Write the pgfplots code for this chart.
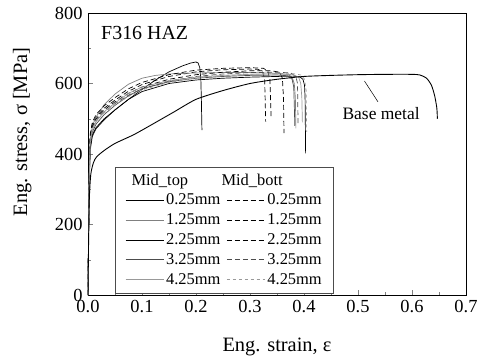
\documentclass[border=0pt]{standalone}
\usepackage{fontspec}
\setmainfont{Liberation Serif}
\usepackage{pgfplots}
\pgfplotsset{compat=1.18}
\definecolor{g1}{gray}{0.5}
\definecolor{g2}{gray}{0.3}
\definecolor{g3}{gray}{0.6}
\begin{document}
\begin{tikzpicture}
\useasboundingbox (-88bp,-61bp) rectangle (390bp,295bp);
\begin{axis}[
  scale only axis, width=378bp, height=282bp,
  xmin=0, xmax=0.7, ymin=0, ymax=800,
  xtick={0,0.1,...,0.7}, ytick={0,200,...,800},
  minor xtick={0.05,0.15,...,0.65}, minor ytick={100,300,500,700},
  tick pos=left, tick align=inside,
  major tick length=5pt, minor tick length=3pt,
  axis line style={line width=0.8pt},
  /pgf/number format/assume math mode=true,
  xticklabel style={yshift=-1.5pt,/pgf/number format/.cd,fixed,fixed zerofill,precision=1},
  yticklabel style={xshift=-2pt},
  tick label style={font=\fontsize{18.5}{20}\selectfont},
  xlabel={Eng. strain, ε},
  ylabel={Eng. stress, σ [MPa]},
  xlabel style={font=\fontsize{20.5}{24}\selectfont, at={(axis description cs:0.5,-0.14)}, anchor=north},
  ylabel style={font=\fontsize{20.5}{24}\selectfont, at={(axis description cs:-0.14,0.578)}, anchor=south},
  every axis plot/.append style={line width=0.7pt},
  legend columns=2,
  legend cell align=left,
  legend style={at={(axis description cs:0.0714,0.007)}, anchor=south west,
    font=\fontsize{16.5}{18}\selectfont, draw=black!70, line width=0.5pt,
    inner xsep=10pt, inner ysep=5pt, row sep=3.5pt,
    /tikz/every even column/.append style={column sep=4pt}},
  legend image code/.code={\draw[#1] (0cm,0cm) -- (1.35cm,0cm);},
]
\addlegendimage{legend image code/.code={\node[anchor=west,inner sep=0pt,overlay] at (0.2cm,0cm) {Mid\_top};}}
\addlegendentry{\vphantom{0.25mm}}
\addlegendimage{legend image code/.code={\node[anchor=west,inner sep=0pt,overlay] at (-0.2cm,0cm) {Mid\_bott};}}
\addlegendentry{\vphantom{0.25mm}}

% S1 0.25mm solid
\addplot[black] coordinates {(0,0)(0.002,300)(0.004,420)(0.008,455)(0.015,475)(0.03,500)(0.05,525)(0.075,555)(0.1,583)(0.125,610)(0.15,633)(0.175,650)(0.19,658)(0.2,661)(0.204,658)(0.207,645)(0.209,610)(0.21,550)(0.211,468)};
\addlegendentry{0.25mm}
% D1
\addplot[black, dash pattern=on 5pt off 3pt] coordinates {(0,0)(0.002,330)(0.004,450)(0.008,485)(0.015,505)(0.03,530)(0.05,553)(0.075,578)(0.1,597)(0.15,620)(0.2,633)(0.25,639)(0.3,641)(0.315,640)(0.323,634)(0.327,615)(0.328,560)(0.329,492)};
\addlegendentry{0.25mm}
% S2
\addplot[g1] coordinates {(0,0)(0.002,320)(0.004,440)(0.008,480)(0.015,505)(0.03,540)(0.05,570)(0.075,598)(0.1,615)(0.125,623)(0.15,627)(0.2,630)(0.25,631)(0.3,631)(0.35,629)(0.37,626)(0.378,618)(0.382,600)(0.384,560)(0.385,473)};
\addlegendentry{1.25mm}
% D2
\addplot[black, dash pattern=on 5pt off 3pt] coordinates {(0,0)(0.002,330)(0.004,455)(0.008,490)(0.015,512)(0.03,537)(0.05,560)(0.075,585)(0.1,603)(0.15,625)(0.2,638)(0.25,643)(0.3,645)(0.325,643)(0.333,635)(0.337,610)(0.338,560)(0.339,506)};
\addlegendentry{1.25mm}
% S3
\addplot[black] coordinates {(0,0)(0.002,300)(0.004,410)(0.008,450)(0.015,472)(0.03,497)(0.05,525)(0.075,555)(0.1,577)(0.15,600)(0.2,610)(0.25,615)(0.3,618)(0.35,620)(0.38,621)(0.392,619)(0.398,612)(0.401,595)(0.402,560)(0.403,402)};
\addlegendentry{2.25mm}
% D3
\addplot[black, dash pattern=on 5pt off 3pt] coordinates {(0,0)(0.002,320)(0.004,445)(0.008,478)(0.015,500)(0.03,525)(0.05,548)(0.075,572)(0.1,590)(0.15,612)(0.2,625)(0.25,632)(0.3,636)(0.34,636)(0.355,632)(0.36,615)(0.362,560)(0.363,459)};
\addlegendentry{2.25mm}
% S4
\addplot[g2] coordinates {(0,0)(0.002,310)(0.004,425)(0.008,462)(0.015,485)(0.03,512)(0.05,538)(0.075,565)(0.1,585)(0.15,605)(0.2,615)(0.25,620)(0.3,623)(0.35,624)(0.37,622)(0.378,612)(0.381,590)(0.382,540)(0.383,480)};
\addlegendentry{3.25mm}
% D4
\addplot[g2, dash pattern=on 5pt off 3pt] coordinates {(0,0)(0.002,315)(0.004,440)(0.008,473)(0.015,495)(0.03,520)(0.05,543)(0.075,567)(0.1,585)(0.15,607)(0.2,620)(0.25,627)(0.3,631)(0.35,632)(0.375,630)(0.385,620)(0.388,600)(0.389,482)};
\addlegendentry{3.25mm}
% S5
\addplot[g3] coordinates {(0,0)(0.002,310)(0.004,430)(0.008,468)(0.015,492)(0.03,520)(0.05,545)(0.075,572)(0.1,590)(0.15,608)(0.2,618)(0.25,623)(0.3,626)(0.35,627)(0.38,625)(0.39,618)(0.394,600)(0.396,560)(0.397,490)};
\addlegendentry{4.25mm}
% D5
\addplot[g3, dash pattern=on 3pt off 3pt] coordinates {(0,0)(0.002,315)(0.004,435)(0.008,470)(0.015,493)(0.03,517)(0.05,540)(0.075,563)(0.1,582)(0.15,603)(0.2,615)(0.25,622)(0.3,626)(0.35,628)(0.38,628)(0.395,624)(0.401,612)(0.404,580)(0.405,463)};
\addlegendentry{4.25mm}
% Base metal
\addplot[black, line width=0.9pt, smooth, tension=0.4, forget plot] coordinates {(0,0)(0.002,250)(0.005,340)(0.01,375)(0.016,392)(0.03,410)(0.05,430)(0.085,455)(0.12,485)(0.16,520)(0.2,555)(0.25,580)(0.3,600)(0.35,612)(0.4,620)(0.45,623)(0.5,625)(0.55,626)(0.6,626)(0.615,624)(0.627,615)(0.636,595)(0.642,565)(0.646,530)(0.647,500)};
\addplot[black, line width=0.5pt, forget plot] coordinates {(0.512,607)(0.537,548)};
\node[anchor=west, font=\fontsize{17.5}{20}\selectfont] at (axis cs:0.465,516) {Base metal};
\node[anchor=west, font=\fontsize{20}{22}\selectfont] at (axis cs:0.018,742) {F316 HAZ};
\end{axis}
\end{tikzpicture}
\end{document}
